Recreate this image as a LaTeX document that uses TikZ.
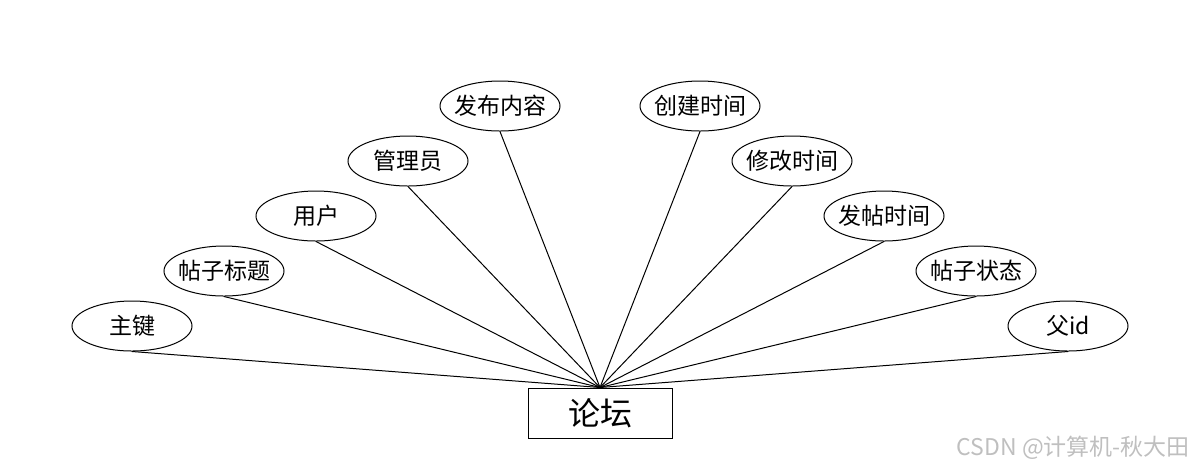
\documentclass[tikz,border=0pt]{standalone}
\usepackage{fontspec}
\setmainfont{Noto Sans CJK SC}
\usetikzlibrary{shapes.geometric}
\tikzset{
  attr/.style={draw, ellipse, line width=0.5pt, minimum width=60pt, minimum height=25pt, inner xsep=-5pt, inner ysep=0pt, font=\fontsize{11.5}{13}\selectfont},
  ent/.style={draw, rectangle, line width=0.5pt, minimum width=72pt, minimum height=25pt, inner sep=0pt, font=\fontsize{16}{18}\selectfont}
}
\begin{document}
\begin{tikzpicture}[x=0.5pt, y=-0.5pt]
  \useasboundingbox (0,0) rectangle (1200,468);
  \node[ent](L) at (600,413){论坛};
  \foreach \x/\t in {0/主键, 1/帖子标题, 2/用户, 3/管理员, 4/发布内容}{
    \node[attr](A\x) at (132+92*\x, 326-55*\x){\t};
    \draw[line width=0.5pt](A\x.south)--(L.north);
  }
  \foreach \x/\t in {5/创建时间, 6/修改时间, 7/发帖时间, 8/帖子状态, 9/父id}{
    \node[attr](A\x) at (700+92*\x-460, 106+55*\x-275){\t};
    \draw[line width=0.5pt](A\x.south)--(L.north);
  }
  \node[text=black!25, font=\fontsize{11.5}{13}\selectfont, anchor=east](W) at (1197,448){CSDN @计算机-秋大田};
\end{tikzpicture}
\end{document}
